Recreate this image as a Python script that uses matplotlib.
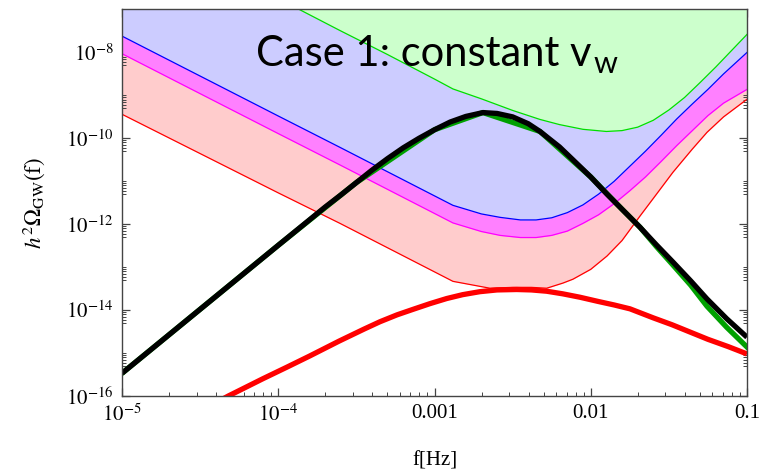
import numpy as np
import matplotlib
matplotlib.use('Agg')
import matplotlib.pyplot as plt
from matplotlib.ticker import FixedLocator, FixedFormatter, LogLocator, NullFormatter

plt.rcParams['font.family'] = ['Liberation Serif', 'DejaVu Serif']
plt.rcParams['mathtext.fontset'] = 'stix'

# Values, given as log10(f) and log10(h^2 Omega)
# sensitivity curves (thin lines, filled above)
logf_green = [-3.95, -3.605, -3.3, -3.0, -2.882, -2.7, -2.5, -2.325, -2.2, -2.05, -1.9, -1.8,
              -1.7, -1.6, -1.5, -1.4, -1.3, -1.2, -1.1, -1.0]
logo_green = [-6.84, -7.49, -8.05, -8.62, -8.85, -9.08, -9.35, -9.56, -9.68, -9.79, -9.84, -9.82,
              -9.74, -9.58, -9.34, -9.05, -8.70, -8.34, -7.96, -7.58]

logf_blue = [-5.0, -4.0, -3.605, -2.882, -2.7, -2.58, -2.45, -2.35, -2.25, -2.15, -2.05, -1.95,
             -1.85, -1.75, -1.65, -1.55, -1.45, -1.35, -1.25, -1.15, -1.0]
logo_blue = [-7.62, -9.48, -10.21, -11.56, -11.76, -11.84, -11.90, -11.90, -11.85, -11.73, -11.55, -11.30,
             -11.00, -10.65, -10.30, -9.93, -9.55, -9.20, -8.86, -8.50, -8.0]

logf_magenta = [-5.0, -4.0, -3.605, -2.882, -2.7, -2.58, -2.45, -2.35, -2.25, -2.15, -2.05, -1.95,
                -1.85, -1.75, -1.65, -1.55, -1.45, -1.35, -1.25, -1.15, -1.0]
logo_magenta = [-8.03, -9.89, -10.62, -11.97, -12.17, -12.26, -12.31, -12.31, -12.26, -12.16, -11.98, -11.78,
                -11.52, -11.22, -10.90, -10.54, -10.17, -9.82, -9.47, -9.18, -8.86]

logf_red = [-5.0, -4.0, -3.605, -2.882, -2.645, -2.5, -2.38, -2.282, -2.178, -2.114, -2.0, -1.896,
            -1.8, -1.685, -1.6, -1.474, -1.35, -1.256, -1.15, -1.0]
logo_red = [-9.44, -11.27, -11.98, -13.33, -13.49, -13.47, -13.47, -13.49, -13.37, -13.28, -13.05, -12.74,
            -12.38, -11.81, -11.40, -10.79, -10.25, -9.86, -9.50, -9.09]

# signal curves (thick lines)
logf_black = [-5.0, -4.5, -4.0, -3.7, -3.6, -3.5, -3.4, -3.3, -3.2, -3.1, -3.0, -2.9, -2.8, -2.69,
              -2.6, -2.5, -2.4, -2.325, -2.2, -2.114, -2.0, -1.896, -1.8, -1.685, -1.58, -1.474,
              -1.36, -1.256, -1.13, -1.0]
logo_black = [-15.47, -13.98, -12.49, -11.60, -11.32, -11.03, -10.74, -10.47, -10.22, -10.0, -9.80, -9.62,
              -9.49, -9.40, -9.42, -9.50, -9.66, -9.84, -10.20, -10.50, -10.90, -11.30, -11.65, -12.07,
              -12.48, -12.88, -13.32, -13.74, -14.20, -14.63]

logf_green_sig = [-5.0, -4.0, -3.5, -3.0, -2.69, -2.325, -2.0, -1.8, -1.685, -1.58, -1.474, -1.36,
                  -1.256, -1.13, -1.0]
logo_green_sig = [-15.47, -12.49, -11.03, -9.80, -9.40, -9.84, -10.90, -11.65, -12.07, -12.52, -12.95, -13.42,
                  -13.91, -14.40, -14.86]

logf_red_sig = [-4.5, -4.32, -4.1, -3.946, -3.8, -3.61, -3.45, -3.349, -3.24, -3.136, -3.03, -2.922,
                -2.82, -2.709, -2.6, -2.474, -2.38, -2.282, -2.18, -2.069, -1.95, -1.85, -1.749, -1.6,
                -1.48, -1.365, -1.25, -1.12, -1.0]
logo_red_sig = [-16.35, -16.0, -15.6, -15.33, -15.07, -14.72, -14.44, -14.27, -14.11, -13.98, -13.85, -13.73,
                -13.64, -13.57, -13.53, -13.52, -13.53, -13.56, -13.62, -13.70, -13.80, -13.88, -13.97, -14.18,
                -14.34, -14.51, -14.68, -14.85, -15.02]

x_ticks = [1e-5, 1e-4, 1e-3, 1e-2, 1e-1]
x_labels = ['$10^{-5}$', '$10^{-4}$', '0.001', '0.01', '0.1']
y_ticks = [1e-16, 1e-14, 1e-12, 1e-10, 1e-8]
y_labels = ['$10^{-16}$', '$10^{-14}$', '$10^{-12}$', '$10^{-10}$', '$10^{-8}$']

y_top = 1e-7


def pw(vals):
    return 10.0 ** np.array(vals)


fig = plt.figure(figsize=(7.66, 4.70), dpi=100)
ax = fig.add_axes([0.1593, 0.1574, 0.8159, 0.8224])

# Filled sensitivity regions, stacked so each upper one covers the lower
bands = [
    (logf_red, logo_red, '#ffcccc', '#ff0000'),
    (logf_magenta, logo_magenta, '#ff80ff', '#ff00ff'),
    (logf_blue, logo_blue, '#ccccff', '#0000ff'),
    (logf_green, logo_green, '#ccffcc', '#00dd00'),
]
for i, (lf, lo, fill_col, line_col) in enumerate(bands):
    ax.fill_between(pw(lf), pw(lo), y_top, color=fill_col, lw=0, zorder=1 + i)
for i, (lf, lo, fill_col, line_col) in enumerate(bands):
    ax.plot(pw(lf), pw(lo), color=line_col, lw=0.9, zorder=6, solid_joinstyle='round')

# Signal spectra
ax.plot(pw(logf_green_sig), pw(logo_green_sig), color='#00a000', lw=3.8, zorder=7)
ax.plot(pw(logf_black), pw(logo_black), color='black', lw=3.8, zorder=8,
        solid_capstyle='butt', solid_joinstyle='round')
ax.plot(pw(logf_red_sig), pw(logo_red_sig), color='#ff0000', lw=3.8, zorder=8,
        solid_capstyle='butt', solid_joinstyle='round')

ax.set_xscale('log')
ax.set_yscale('log')
ax.set_xlim(1e-5, 0.1)
ax.set_ylim(1e-16, y_top)

ax.xaxis.set_major_locator(FixedLocator(x_ticks))
ax.xaxis.set_major_formatter(FixedFormatter(x_labels))
ax.xaxis.set_minor_locator(LogLocator(base=10, subs=np.arange(2, 10), numticks=50))
ax.xaxis.set_minor_formatter(NullFormatter())
ax.yaxis.set_major_locator(FixedLocator(y_ticks))
ax.yaxis.set_major_formatter(FixedFormatter(y_labels))
ax.yaxis.set_minor_locator(LogLocator(base=10, subs=[1.0, 5, 6, 7, 8, 9], numticks=50))
ax.yaxis.set_minor_formatter(NullFormatter())

ax.tick_params(which='both', direction='in', top=True, right=True, colors='#444444',
               labelcolor='black', labelsize=15)
ax.tick_params(which='major', length=6, width=0.9, pad=6)
ax.tick_params(which='minor', length=3, width=0.7)
for s in ax.spines.values():
    s.set_color('#444444')
    s.set_linewidth(1.0)
    s.set_zorder(10)

ax.set_xlabel('f[Hz]', fontsize=15, labelpad=18)
ax.set_ylabel(r'$h^2\Omega_{\rm GW}(\rm f)$', fontsize=16.5, labelpad=14)

# Title text inside the plot (figure pixels from bottom-left), subscript drawn after it
fig_h = 470
t = ax.text(256, fig_h - 66, 'Case 1: constant v', transform=None, fontsize=30,
            family='Lato', color='black', va='baseline', ha='left', zorder=12)
fig.canvas.draw()
bb = t.get_window_extent()
ax.text(bb.x1 + 2, fig_h - 73, 'w', transform=None, fontsize=22,
        family='Lato', color='black', va='baseline', ha='left', zorder=12)

fig.savefig('out.png', dpi=100)
